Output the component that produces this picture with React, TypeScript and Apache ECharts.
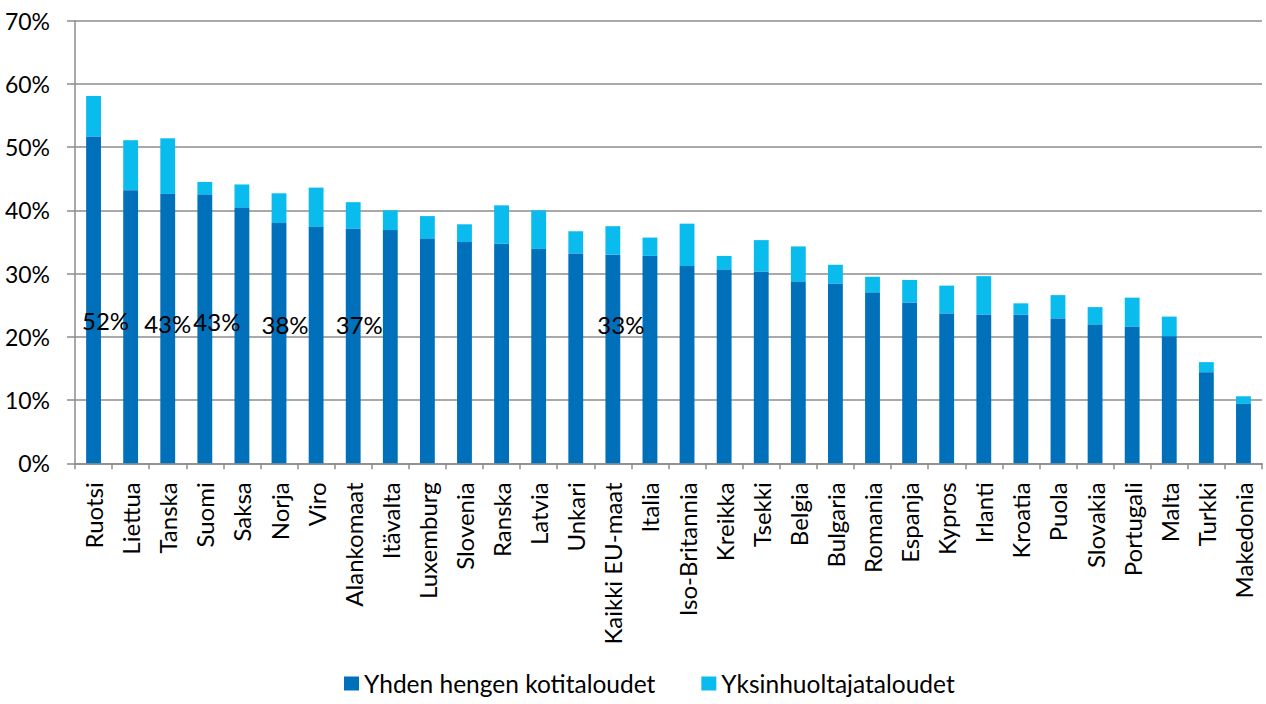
import React, { useEffect, useRef } from "react";
import * as echarts from "echarts";

const categories = [
  "Ruotsi", "Liettua", "Tanska", "Suomi", "Saksa", "Norja", "Viro", "Alankomaat",
  "Itävalta", "Luxemburg", "Slovenia", "Ranska", "Latvia", "Unkari", "Kaikki EU-maat",
  "Italia", "Iso-Britannia", "Kreikka", "Tsekki", "Belgia", "Bulgaria", "Romania",
  "Espanja", "Kypros", "Irlanti", "Kroatia", "Puola", "Slovakia", "Portugali", "Malta",
  "Turkki", "Makedonia",
];

// Yhden hengen kotitaloudet (%)
const singleHouseholds = [
  51.7, 43.2, 42.6, 42.5, 40.4, 38.0, 37.4, 37.1,
  36.9, 35.5, 35.0, 34.7, 33.9, 33.2, 33.0,
  32.8, 31.2, 30.6, 30.3, 28.7, 28.4, 27.0,
  25.4, 23.7, 23.5, 23.5, 22.9, 21.9, 21.6, 20.1,
  14.4, 9.4,
];

// Yksinhuoltajataloudet (%), stacked on top
const singleParent = [
  6.4, 7.9, 8.8, 2.0, 3.7, 4.7, 6.2, 4.2,
  3.1, 3.6, 2.8, 6.1, 6.1, 3.5, 4.5,
  2.9, 6.7, 2.2, 5.0, 5.6, 3.0, 2.5,
  3.6, 4.4, 6.1, 1.8, 3.7, 2.8, 4.6, 3.1,
  1.6, 1.2,
];

const yTicks = [0, 10, 20, 30, 40, 50, 60, 70];

// categories whose dark bar carries a value label
const labelledCategories = ["Ruotsi", "Tanska", "Suomi", "Norja", "Alankomaat", "Kaikki EU-maat"];
const labelShift: Record<string, [number, number]> = {
  Ruotsi: [12, -131],
  Tanska: [0, -128],
  Suomi: [12, -130],
  Norja: [6, -127],
  Alankomaat: [6, -127],
  "Kaikki EU-maat": [8, -127],
};

const FONT = "Lato";

export default function App() {
  const ref = useRef<HTMLDivElement>(null);
  useEffect(() => {
    if (!ref.current) return;
    const chart = echarts.init(ref.current, null, { renderer: "svg" });
    const darkData = singleHouseholds.map((v, i) => {
      const c = categories[i];
      if (labelledCategories.includes(c)) {
        return {
          value: v,
          label: {
            show: true,
            position: "insideBottom",
            distance: 0,
            offset: labelShift[c],
            formatter: (p: any) => Math.round(p.value) + "%",
            color: "#000",
            fontFamily: FONT,
            fontSize: 24,
          },
        };
      }
      return v;
    });
    chart.setOption({
      animation: false,
      textStyle: { fontFamily: FONT },
      grid: { left: 75, right: 4, top: 20.7, bottom: 240.7, containLabel: false },
      legend: {
        bottom: 3,
        left: 339,
        icon: "rect",
        itemWidth: 15,
        itemHeight: 14,
        itemGap: 46,
        textStyle: { fontFamily: FONT, fontSize: 24.5, color: "#000" },
        data: ["Yhden hengen kotitaloudet", "Yksinhuoltajataloudet"],
      },
      xAxis: {
        type: "category",
        data: categories,
        axisLine: { lineStyle: { color: "#8c8c8c", width: 1.5 } },
        axisTick: { show: true, alignWithLabel: false, length: 6, lineStyle: { color: "#8c8c8c", width: 1.5 } },
        axisLabel: {
          rotate: 90,
          interval: 0,
          margin: 19,
          color: "#000",
          fontFamily: FONT,
          fontSize: 24,
        },
      },
      yAxis: {
        type: "value",
        min: 0,
        max: 70,
        interval: 10,
        axisLine: { show: true, lineStyle: { color: "#8c8c8c", width: 1.5 } },
        axisTick: { show: true, length: 8, lineStyle: { color: "#8c8c8c", width: 1.5 } },
        splitLine: { lineStyle: { color: "#8c8c8c", width: 1.5 } },
        axisLabel: {
          margin: 25,
          color: "#000",
          fontFamily: FONT,
          fontSize: 23,
          formatter: (v: number) => (yTicks.includes(v) ? v + "%" : ""),
        },
      },
      series: [
        {
          name: "Yhden hengen kotitaloudet",
          type: "bar",
          stack: "total",
          barWidth: "40%",
          itemStyle: { color: "#0070BA" },
          data: darkData,
          z: 3,
        },
        {
          name: "Yksinhuoltajataloudet",
          type: "bar",
          stack: "total",
          barWidth: "40%",
          itemStyle: { color: "#0ABBEE" },
          data: singleParent,
          z: 2,
        },
      ],
    });
    return () => chart.dispose();
  }, []);
  return <div ref={ref} style={{ width: 1266, height: 704, position: "absolute", left: 0, top: 0 }} />;
}
